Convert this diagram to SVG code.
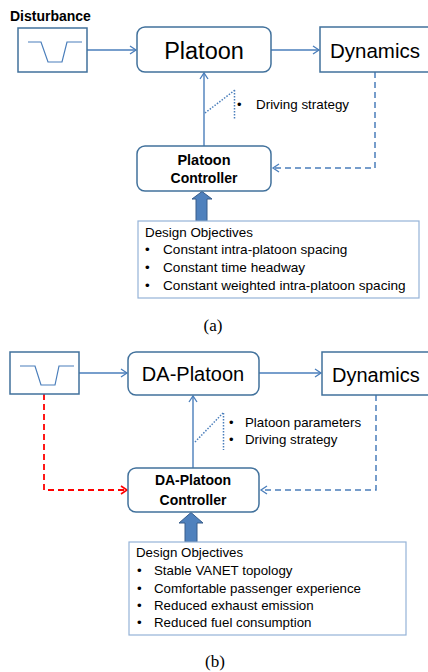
<svg xmlns="http://www.w3.org/2000/svg" width="428" height="672" viewBox="0 0 428 672">
<defs>
<marker id="arr" markerWidth="10" markerHeight="10" refX="8" refY="5" orient="auto" markerUnits="userSpaceOnUse">
<polyline points="2,1 8,5 2,9" fill="none" stroke="#4a7ebb" stroke-width="1.3"/>
</marker>
<marker id="arrR" markerWidth="10" markerHeight="10" refX="8" refY="5" orient="auto" markerUnits="userSpaceOnUse">
<polyline points="2,1 8,5 2,9" fill="none" stroke="#ff0000" stroke-width="1.6"/>
</marker>
<style>
.box{fill:#fff;stroke:#41719c;stroke-width:1.5}
.obj{fill:#fff;stroke:#95b3d7;stroke-width:1.2}
.wave{fill:none;stroke:#4a7ebb;stroke-width:1.2}
.ln{fill:none;stroke:#4a7ebb;stroke-width:1.4}
.dash{fill:none;stroke:#4a7ebb;stroke-width:1.5;stroke-dasharray:6,4}
.red{fill:none;stroke:#ff0000;stroke-width:1.8;stroke-dasharray:6,4}
.dot{fill:none;stroke:#4a7ebb;stroke-width:1.5;stroke-dasharray:1.5,1.5}
.blk{fill:#4f81bd;stroke:#385d8a;stroke-width:1}
.t{font-family:"Liberation Sans",Arial,sans-serif;fill:#000}
.b{font-weight:bold}
.cap{font-family:"Liberation Serif","Times New Roman",serif;font-size:17px;fill:#000}
</style>
</defs>

<!-- (a) -->
<g id="connectors-a">
<path class="ln" d="M87 50 H136" marker-end="url(#arr)"/>
<path class="ln" d="M271 50 H319" marker-end="url(#arr)"/>
<path class="ln" d="M204 146 V73" marker-end="url(#arr)"/>
<path class="dash" d="M375 72 V168 H273" marker-end="url(#arr)"/>
<path class="dot" d="M205 113 L235 90 M234.5 90 V119"/>
<polygon class="blk" points="196,221 196,199 192,199 202,191.5 212,199 207,199 207,221"/>
</g>
<g id="disturbance-a">
<text class="t b" x="10" y="21" font-size="14">Disturbance</text>
<rect class="box" x="18" y="28" width="69" height="44"/>
<polyline class="wave" points="28,42 41,42 48,62 62,62 67,42 82,42"/>
</g>
<g id="platoon-a">
<rect class="box" x="137" y="27" width="134" height="45" rx="8"/>
<text class="t" x="204" y="59" font-size="23.5" text-anchor="middle">Platoon</text>
</g>
<g id="dynamics-a">
<rect class="box" x="320" y="27" width="120" height="45"/>
<text class="t" x="330" y="58" font-size="20.5">Dynamics</text>
</g>
<g id="strategy-a">
<text class="t" x="237" y="109" font-size="13">•</text>
<text class="t" x="256" y="109" font-size="13.4">Driving strategy</text>
</g>
<g id="controller-a">
<rect class="box" x="137" y="146" width="134" height="45" rx="8"/>
<text class="t b" x="204" y="165" font-size="14.5" text-anchor="middle">Platoon</text>
<text class="t b" x="204" y="183" font-size="14" text-anchor="middle">Controller</text>
</g>
<g id="objectives-a">
<rect class="obj" x="138" y="221" width="281" height="77"/>
<text class="t" x="145" y="237" font-size="13.4">Design Objectives</text>
<text class="t" x="145" y="254" font-size="13.4">•</text>
<text class="t" x="163" y="254" font-size="13.6">Constant intra-platoon spacing</text>
<text class="t" x="145" y="272" font-size="13.4">•</text>
<text class="t" x="163" y="272" font-size="13.6">Constant time headway</text>
<text class="t" x="145" y="290" font-size="13.4">•</text>
<text class="t" x="163" y="290" font-size="13.6">Constant weighted intra-platoon spacing</text>
</g>
<text class="cap" x="213" y="331" text-anchor="middle">(a)</text>

<!-- (b) -->
<g id="connectors-b">
<path class="ln" d="M79 373 H127" marker-end="url(#arr)"/>
<path class="ln" d="M259 373 H321" marker-end="url(#arr)"/>
<path class="ln" d="M193 468 V396" marker-end="url(#arr)"/>
<path class="dash" d="M376 395 V490 H261" marker-end="url(#arr)"/>
<path class="red" d="M44 394 V490 H127" marker-end="url(#arrR)"/>
<path class="dot" d="M195 442 L223 413 M223.5 413 V450"/>
<polygon class="blk" points="185,542 185,523 179,523 191,512.5 203,523 197,523 197,542"/>
</g>
<g id="disturbance-b">
<rect class="box" x="10" y="352" width="69" height="42"/>
<polyline class="wave" points="20,366 35,366 41,385 55,385 59,366 74,366"/>
</g>
<g id="daplatoon-b">
<rect class="box" x="128" y="352" width="131" height="43" rx="8"/>
<text class="t" x="193" y="381" font-size="20" text-anchor="middle">DA-Platoon</text>
</g>
<g id="dynamics-b">
<rect class="box" x="322" y="352" width="120" height="43"/>
<text class="t" x="332" y="382" font-size="20">Dynamics</text>
</g>
<g id="params-b">
<text class="t" x="229" y="427" font-size="13">•</text>
<text class="t" x="245" y="427" font-size="13.3">Platoon parameters</text>
<text class="t" x="229" y="444" font-size="13">•</text>
<text class="t" x="245" y="444" font-size="13.3">Driving strategy</text>
</g>
<g id="controller-b">
<rect class="box" x="128" y="468" width="131" height="44" rx="8"/>
<text class="t b" x="193" y="485" font-size="14" text-anchor="middle">DA-Platoon</text>
<text class="t b" x="193" y="505" font-size="14" text-anchor="middle">Controller</text>
</g>
<g id="objectives-b">
<rect class="obj" x="129" y="542" width="277" height="93"/>
<text class="t" x="136" y="557" font-size="13.3">Design Objectives</text>
<text class="t" x="137" y="575" font-size="13.3">•</text>
<text class="t" x="154" y="575" font-size="13.3">Stable VANET topology</text>
<text class="t" x="137" y="593" font-size="13.3">•</text>
<text class="t" x="154" y="593" font-size="13.3">Comfortable passenger experience</text>
<text class="t" x="137" y="610" font-size="13.3">•</text>
<text class="t" x="154" y="610" font-size="13.3">Reduced exhaust emission</text>
<text class="t" x="137" y="627" font-size="13.3">•</text>
<text class="t" x="154" y="627" font-size="13.3">Reduced fuel consumption</text>
</g>
<text class="cap" x="215" y="667" text-anchor="middle">(b)</text>
</svg>
